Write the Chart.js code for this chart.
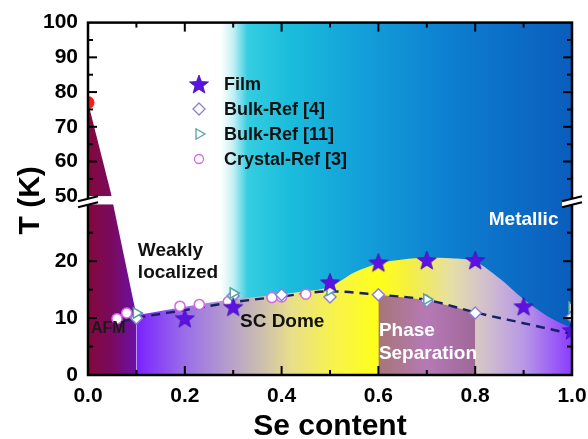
<!DOCTYPE html>
<html><head><meta charset="utf-8">
<script src="https://cdn.jsdelivr.net/npm/chart.js@4.4.1/dist/chart.umd.min.js"></script>
<style>html,body{margin:0;padding:0;background:#fff}</style>
</head><body>
<canvas id="c" width="588" height="439" style="width:588px;height:439px;display:block"></canvas>
<script>
// ---------- data ----------
const filmX    = [0.2, 0.3, 0.5, 0.6, 0.7, 0.8, 0.9, 1.0];
const filmT    = [10.0, 12.0, 16.3, 19.8, 20.2, 20.2, 12.1, 7.9];
const bulk4X   = [0.1, 0.3, 0.4, 0.5, 0.6, 0.7, 0.8, 1.0];
const bulk4T   = [10.0, 13.9, 14.1, 13.7, 14.1, 13.0, 10.9, 10.2];
const bulk11X  = [0.1, 0.3, 0.5, 0.7, 1.0];
const bulk11T  = [10.9, 14.4, 14.9, 13.3, 11.9];
const crystalX = [0.06, 0.08, 0.19, 0.23, 0.29, 0.38, 0.40, 0.45];
const crystalT = [9.9, 10.9, 12.1, 12.4, 12.9, 13.6, 13.7, 14.2];
const neelX    = [0.0];
const neelT    = [77];
// dashed guide line
const guideX   = [0.07, 0.1, 0.2, 0.3, 0.4, 0.5, 0.6, 0.7, 0.8, 0.9, 1.0];
const guideT   = [9.4, 10.0, 11.4, 12.8, 13.8, 14.7, 14.1, 13.2, 11.0, 9.1, 7.2];
// phase-region boundaries
const afmHiX   = [0.0, 0.049];
const afmHiT   = [77, 50];
const afmLoX   = [0.0, 0.052, 0.1];
const afmLoT   = [30, 30, 10.5];
const domeX    = [0.1, 0.2, 0.3, 0.4, 0.45, 0.5, 0.55, 0.6, 0.65, 0.7, 0.75, 0.8, 0.85, 0.9, 0.95, 1.0];
const domeT    = [10.5, 12.0, 13.3, 14.2, 14.7, 15.5, 18.0, 19.6, 20.3, 20.6, 20.5, 19.9, 17.0, 13.3, 10.3, 8.2];
const sepX     = [0.6, 0.7, 0.8];
const sepT     = [14.1, 13.2, 11.0];
// tick labels
const xTickLabels = ['0.0','0.2','0.4','0.6','0.8','1.0'];
const yLoTicks = [0, 10, 20];
const yHiTicks = [50, 60, 70, 80, 90, 100];

// ---------- styles ----------
const FONT = "Arial, 'Liberation Sans', sans-serif";
const bgStops   = [[0,'#ffffff'],[0.275,'#ffffff'],[0.30,'#c4f0f5'],[0.33,'#34cde1'],[0.42,'#1abcdc'],[0.55,'#14a2da'],[0.75,'#0d7ed0'],[1,'#0a5dbc']];
const afmStops  = [[0,'#83083a'],[0.05,'#7a0a60'],[0.1,'#6a10a8']];
const domeStops = [[0.1,'#7a22ff'],[0.2,'#9a6ee8'],[0.3,'#b8a3c9'],[0.36,'#cdbfae'],[0.42,'#e8de8a'],[0.5,'#f6f250'],[0.6,'#ffff1a'],[0.66,'#f5f03e'],[0.75,'#e6dfa6'],[0.82,'#d2c0cc'],[0.9,'#b898e6'],[1,'#8a3cff']];
const sepStops  = [[0.6,'#a67676'],[0.7,'#b679b6'],[0.8,'#9e6898']];

function pts(xs, ys){ return xs.map((x,i)=>({x:x, y:ys[i]})); }
function hGrad(stops){
  return function(ctx){
    const ch = ctx.chart, xs = ch.scales && ch.scales.x;
    if(!ch.chartArea || !xs) return 'rgba(0,0,0,0)';
    const x0 = xs.getPixelForValue(0), x1 = xs.getPixelForValue(1);
    const g = ch.ctx.createLinearGradient(x0,0,x1,0);
    stops.forEach(s=>g.addColorStop(s[0], s[1]));
    return g;
  };
}
function starImg(size, rOut, rIn, color){
  const c = document.createElement('canvas'); c.width = size; c.height = size;
  const g = c.getContext('2d'); g.beginPath();
  for(let i=0;i<10;i++){
    const r = i%2 ? rIn : rOut, a = -Math.PI/2 + i*Math.PI/5;
    const px = size/2 + r*Math.cos(a), py = size/2 + 1 + r*Math.sin(a);
    if(i) g.lineTo(px,py); else g.moveTo(px,py);
  }
  g.closePath(); g.fillStyle = color; g.fill();
  g.strokeStyle = '#4010b0'; g.lineWidth = 0.8; g.stroke();
  return c;
}
const STAR = starImg(22, 10, 4.2, '#5c12e2');

const region = (xs, ys, axis, fill, stops, order, mono) => ({
  type:'line', data:pts(xs,ys), yAxisID:axis, fill:fill, backgroundColor:hGrad(stops),
  borderWidth:0, borderColor:'rgba(0,0,0,0)', pointRadius:0, order:order,
  cubicInterpolationMode: mono ? 'monotone' : 'default', tension: mono ? 0.4 : 0
});

const datasets = [
  region(afmHiX, afmHiT, 'yHi', 'start', afmStops, 20, false),
  region(domeX, domeT, 'yLo', 'origin', domeStops, 19, true),
  region(sepX, sepT, 'yLo', 'origin', sepStops, 18, false),
  region(afmLoX, afmLoT, 'yLo', 'origin', afmStops, 17, false),
  { type:'line', label:'guide', data:pts(guideX,guideT), yAxisID:'yLo', borderColor:'#1b1f66', borderWidth:2.4,
    borderDash:[9,6], pointRadius:0, fill:false, cubicInterpolationMode:'monotone', order:10 },
  { label:'Crystal-Ref [3]', data:pts(crystalX,crystalT), yAxisID:'yLo', showLine:false, pointStyle:'circle',
    pointRadius:5, backgroundColor:'#ffffff', borderColor:'#d468e2', borderWidth:1.5, order:6, legend:true },
  { label:'Bulk-Ref [4]', data:pts(bulk4X,bulk4T), yAxisID:'yLo', showLine:false, pointStyle:'rectRot',
    pointRadius:6, backgroundColor:'#ffffff', borderColor:'#8c80d6', borderWidth:1.5, order:5, legend:true },
  { label:'Bulk-Ref [11]', data:pts(bulk11X,bulk11T), yAxisID:'yLo', showLine:false, pointStyle:'triangle',
    rotation:90, pointRadius:6, backgroundColor:'#ffffff', borderColor:'#56a2a2', borderWidth:1.5, order:4, legend:true },
  { label:'Film', data:pts(filmX,filmT), yAxisID:'yLo', showLine:false, pointStyle:STAR,
    pointRadius:10, backgroundColor:'#5c12e2', borderColor:'#5c12e2', order:2, legend:true },
  { label:'Neel', data:pts(neelX,neelT), yAxisID:'yHi', showLine:false, pointStyle:'circle',
    pointRadius:6.5, backgroundColor:'#ff1a1a', borderColor:'#ff1a1a', borderWidth:0, order:1 }
];
const legendOrder = ['Film','Bulk-Ref [4]','Bulk-Ref [11]','Crystal-Ref [3]'];

const annotations = [
  {text:'Weakly', x:0.103, T:21.9, color:'#111', align:'left'},
  {text:'localized', x:0.103, T:17.9, color:'#111', align:'left'},
  {text:'Metallic', x:0.9, T:27.2, color:'#ffffff', align:'center'},
  {text:'SC Dome', x:0.314, T:9.3, color:'#111', align:'left'},
  {text:'Phase', x:0.601, T:7.7, color:'#ffffff', align:'left'},
  {text:'Separation', x:0.601, T:3.7, color:'#ffffff', align:'left'},
  {text:'AFM', x:0.006, T:8.1, color:'#1a1a1a', align:'left', size:16}
];

const bgPlugin = {
  id:'bg',
  beforeDatasetsDraw(chart){
    const {ctx, chartArea:a} = chart;
    ctx.save();
    ctx.fillStyle = hGrad(bgStops)({chart});
    ctx.fillRect(a.left, a.top, a.width, a.height);
    ctx.restore();
  }
};

function seg(ctx,x1,y1,x2,y2){ ctx.beginPath(); ctx.moveTo(x1,y1); ctx.lineTo(x2,y2); ctx.stroke(); }

const decoPlugin = {
  id:'deco',
  afterDatasetsDraw(chart){
    const {ctx, chartArea:a, scales} = chart;
    const sx = scales.x, lo = scales.yLo, hi = scales.yHi, gap = scales.yGap;
    ctx.save();
    // annotations
    ctx.textBaseline = 'middle';
    annotations.forEach(n=>{
      ctx.font = 'bold ' + (n.size||19) + 'px ' + FONT;
      ctx.fillStyle = n.color; ctx.textAlign = n.align;
      ctx.fillText(n.text, sx.getPixelForValue(n.x), lo.getPixelForValue(n.T));
    });
    // ticks
    ctx.strokeStyle = '#000'; ctx.lineWidth = 2; ctx.lineCap = 'butt';
    for(let i=1;i<10;i++){
      const px = sx.getPixelForValue(i/10), L = (i%2===0) ? 9 : 5;
      seg(ctx, px, a.bottom, px, a.bottom - L);
      seg(ctx, px, a.top, px, a.top + L);
    }
    const yt = [[lo,[5,10,15,20,25]],[hi,[55,60,65,70,75,80,85,90,95]]];
    yt.forEach(([sc, vals])=>{
      vals.forEach(v=>{
        const py = sc.getPixelForValue(v), L = (v%10===0) ? 9 : 5;
        seg(ctx, a.left, py, a.left + L, py);
        seg(ctx, a.right, py, a.right - L, py);
      });
    });
    // frame
    ctx.lineWidth = 2.5;
    ctx.strokeRect(a.left, a.top, a.right - a.left, a.bottom - a.top);
    // axis breaks
    const gy = (gap.top + gap.bottom)/2;
    [a.left, a.right].forEach(cx=>{
      ctx.fillStyle = '#ffffff';
      ctx.beginPath();
      ctx.moveTo(cx-10, gy+1); ctx.lineTo(cx+10, gy-4); ctx.lineTo(cx+10, gy+2); ctx.lineTo(cx-10, gy+7);
      ctx.closePath(); ctx.fill();
      ctx.lineWidth = 2;
      seg(ctx, cx-10, gy+1, cx+10, gy-4);
      seg(ctx, cx-10, gy+7, cx+10, gy+2);
    });
    // legend
    const lx = 199, tx = 224, ly0 = 84, dy = 25;
    ctx.font = 'bold 18px ' + FONT; ctx.textAlign = 'left'; ctx.textBaseline = 'middle';
    legendOrder.forEach((lab, k)=>{
      const ds = chart.data.datasets.find(d=>d.label===lab);
      const y = ly0 + k*dy;
      if(ds.pointStyle === STAR){
        ctx.drawImage(STAR, lx - STAR.width/2, y - STAR.height/2);
      } else {
        ctx.fillStyle = ds.backgroundColor; ctx.strokeStyle = ds.borderColor; ctx.lineWidth = 1.3;
        Chart.helpers.drawPoint(ctx, {pointStyle: ds.pointStyle, radius: ds.pointStyle==='circle'?4.5:6, rotation: ds.rotation||0, borderWidth:1.3}, lx, y);
      }
      ctx.fillStyle = '#111';
      ctx.fillText(lab, tx, y + 1);
    });
    ctx.restore();
  }
};

const tickFont = {family:FONT, size:21, weight:'bold'};
const titleFont = {family:FONT, size:30, weight:'bold', lineHeight:0.8};
const noGrid = {display:false, drawTicks:false};
const fitY = s => { s.width = 88; };

new Chart(document.getElementById('c'), {
  type:'line',
  data:{ datasets: datasets },
  options:{
    responsive:false, animation:false, devicePixelRatio:1,
    layout:{ padding:{left:0, right:16, top:22, bottom:0} },
    plugins:{ legend:{display:false}, tooltip:{enabled:false} },
    scales:{
      x:{ type:'linear', position:'bottom', min:0, max:1, grid:noGrid, border:{display:false},
          afterBuildTicks: s => { s.ticks = xTickLabels.map(t=>({value: parseFloat(t)})); },
          ticks:{ font:tickFont, color:'#000', padding:9, autoSkip:false, maxRotation:0,
                  callback: (v) => xTickLabels.find(t=>parseFloat(t)===v) },
          title:{ display:true, text:'Se content', font:titleFont, color:'#000', padding:{top:0,bottom:0} },
          afterFit: s => { s.height = 64; s.paddingLeft = 0; s.paddingRight = 0; } },
      yLo:{ type:'linear', position:'left', stack:'T', stackWeight:171, min:0, max:30,
            grid:noGrid, border:{display:false},
            afterBuildTicks: s => { s.ticks = yLoTicks.map(v=>({value:v})); },
            ticks:{ font:tickFont, color:'#000', padding:10, autoSkip:false }, afterFit:fitY },
      yGap:{ type:'linear', position:'left', stack:'T', stackWeight:8, min:0, max:1,
             grid:noGrid, border:{display:false}, ticks:{display:false},
             title:{ display:true, text:'T (K)', font:titleFont, color:'#000', padding:{top:19,bottom:0} },
             afterFit:fitY },
      yHi:{ type:'linear', position:'left', stack:'T', stackWeight:174, min:50, max:100,
            grid:noGrid, border:{display:false},
            afterBuildTicks: s => { s.ticks = yHiTicks.map(v=>({value:v})); },
            ticks:{ font:tickFont, color:'#000', padding:10, autoSkip:false }, afterFit:fitY }
    }
  },
  plugins:[bgPlugin, decoPlugin]
});
</script>
</body></html>
